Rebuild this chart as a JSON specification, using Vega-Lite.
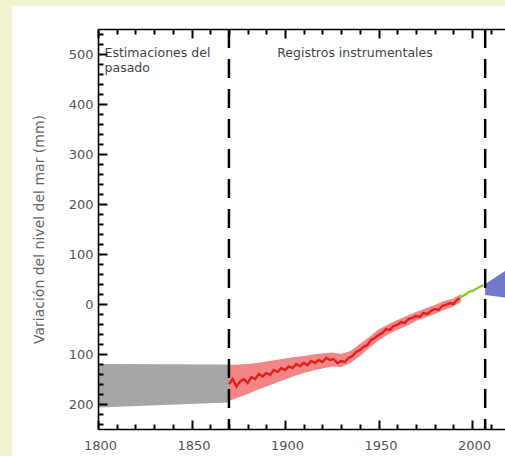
{
  "$schema": "https://vega.github.io/schema/vega-lite/v6.json",
  "autosize": "none",
  "width": 407,
  "height": 400,
  "padding": {"left": 98, "top": 29, "right": 0, "bottom": 27},
  "background": "white",
  "config": {
    "view": {"stroke": null},
    "axis": {
      "grid": false,
      "domainColor": "#000",
      "domainWidth": 1.6,
      "tickColor": "#000",
      "tickWidth": 2,
      "labelFont": "DejaVu Sans",
      "labelFontSize": 13,
      "labelColor": "#555",
      "titleFont": "DejaVu Sans",
      "titleFontSize": 14,
      "titleFontWeight": "normal",
      "titleColor": "#666"
    }
  },
  "datasets": {
    "grey": [
      {"year": 1800, "lo": -207, "hi": -120},
      {"year": 1870, "lo": -197, "hi": -121}
    ],
    "band": [
      {"year": 1870, "lo": -194, "hi": -122},
      {"year": 1875, "lo": -187, "hi": -121},
      {"year": 1880, "lo": -180, "hi": -120},
      {"year": 1885, "lo": -172, "hi": -118},
      {"year": 1890, "lo": -165, "hi": -115},
      {"year": 1895, "lo": -158, "hi": -112},
      {"year": 1900, "lo": -151, "hi": -109},
      {"year": 1905, "lo": -144, "hi": -106},
      {"year": 1910, "lo": -138, "hi": -104},
      {"year": 1915, "lo": -133, "hi": -101},
      {"year": 1920, "lo": -129, "hi": -99},
      {"year": 1925, "lo": -125, "hi": -97},
      {"year": 1930, "lo": -126, "hi": -100},
      {"year": 1935, "lo": -118, "hi": -94},
      {"year": 1940, "lo": -104, "hi": -80},
      {"year": 1945, "lo": -88, "hi": -66},
      {"year": 1950, "lo": -73, "hi": -51},
      {"year": 1955, "lo": -61, "hi": -41},
      {"year": 1960, "lo": -52, "hi": -32},
      {"year": 1965, "lo": -44, "hi": -24},
      {"year": 1970, "lo": -34, "hi": -16},
      {"year": 1975, "lo": -27, "hi": -9},
      {"year": 1980, "lo": -20, "hi": -2},
      {"year": 1985, "lo": -12, "hi": 6},
      {"year": 1990, "lo": -5, "hi": 11},
      {"year": 1994, "lo": 4, "hi": 20}
    ],
    "red": [
      {"year": 1870, "v": -160}, {"year": 1872, "v": -150}, {"year": 1874, "v": -165},
      {"year": 1876, "v": -155}, {"year": 1878, "v": -150}, {"year": 1880, "v": -158},
      {"year": 1882, "v": -146}, {"year": 1884, "v": -150}, {"year": 1886, "v": -140},
      {"year": 1888, "v": -145}, {"year": 1890, "v": -138}, {"year": 1892, "v": -142},
      {"year": 1894, "v": -132}, {"year": 1896, "v": -136}, {"year": 1898, "v": -128},
      {"year": 1900, "v": -132}, {"year": 1902, "v": -125}, {"year": 1904, "v": -128},
      {"year": 1906, "v": -120}, {"year": 1908, "v": -124}, {"year": 1910, "v": -118},
      {"year": 1912, "v": -122}, {"year": 1914, "v": -114}, {"year": 1916, "v": -118},
      {"year": 1918, "v": -112}, {"year": 1920, "v": -116}, {"year": 1922, "v": -108},
      {"year": 1924, "v": -112}, {"year": 1926, "v": -110}, {"year": 1928, "v": -118},
      {"year": 1930, "v": -114}, {"year": 1932, "v": -116}, {"year": 1934, "v": -108},
      {"year": 1936, "v": -104}, {"year": 1938, "v": -96}, {"year": 1940, "v": -92},
      {"year": 1942, "v": -86}, {"year": 1944, "v": -82}, {"year": 1946, "v": -72},
      {"year": 1948, "v": -68}, {"year": 1950, "v": -62}, {"year": 1952, "v": -58},
      {"year": 1954, "v": -50}, {"year": 1956, "v": -52}, {"year": 1958, "v": -44},
      {"year": 1960, "v": -42}, {"year": 1962, "v": -36}, {"year": 1964, "v": -38},
      {"year": 1966, "v": -30}, {"year": 1968, "v": -28}, {"year": 1970, "v": -24},
      {"year": 1972, "v": -26}, {"year": 1974, "v": -18}, {"year": 1976, "v": -20},
      {"year": 1978, "v": -14}, {"year": 1980, "v": -10}, {"year": 1982, "v": -12},
      {"year": 1984, "v": -4}, {"year": 1986, "v": -2}, {"year": 1988, "v": 2},
      {"year": 1990, "v": 0}, {"year": 1992, "v": 8}, {"year": 1994, "v": 14}
    ],
    "green": [
      {"year": 1993, "v": 12}, {"year": 1995, "v": 16}, {"year": 1997, "v": 20},
      {"year": 1998, "v": 24}, {"year": 2000, "v": 26}, {"year": 2002, "v": 30},
      {"year": 2004, "v": 34}, {"year": 2006, "v": 38}
    ],
    "blue": [
      {"year": 2007, "lo": 18, "hi": 40},
      {"year": 2020, "lo": 12, "hi": 72}
    ],
    "dash": [{"year": 1870}, {"year": 2007}],
    "leftText": [
      {"year": 1803.5, "v": 502, "t": "Estimaciones del"},
      {"year": 1803.5, "v": 473, "t": "pasado"}
    ],
    "midText": [
      {"year": 1937.4, "v": 502, "t": "Registros instrumentales"}
    ]
  },
  "layer": [
    {
      "data": {"values": [{}]},
      "mark": {"type": "rect", "fill": "#f3f3cf", "clip": false},
      "encoding": {
        "x": {"datum": 1700, "type": "quantitative", "scale": {"domain": [1800, 2017.6], "nice": false, "zero": false}, "axis": null},
        "x2": {"datum": 1754},
        "y": {"datum": 700, "type": "quantitative", "scale": {"domain": [-250, 550], "nice": false, "zero": false}, "axis": null},
        "y2": {"datum": -400}
      }
    },
    {
      "data": {"values": [{}]},
      "mark": {"type": "rect", "fill": "#f3f3cf", "clip": false},
      "encoding": {
        "x": {"datum": 1700, "type": "quantitative", "scale": {"domain": [1800, 2017.6], "nice": false, "zero": false}, "axis": null},
        "x2": {"datum": 2100},
        "y": {"datum": 700, "type": "quantitative", "scale": {"domain": [-250, 550], "nice": false, "zero": false}, "axis": null},
        "y2": {"datum": 596}
      }
    },
    {
      "data": {"name": "grey"},
      "mark": {"type": "area", "color": "#a6a6a6", "clip": true},
      "encoding": {
        "x": {
          "field": "year", "type": "quantitative",
          "scale": {"domain": [1800, 2017.6], "nice": false, "zero": false},
          "axis": {
            "orient": "bottom",
            "zindex": 1,
            "title": null,
            "values": [1800, 1850, 1900, 1950, 2000],
            "format": "d",
            "ticks": false,
            "labelPadding": 10,
            "labelFlush": false,
            "labelOverlap": false,
            "labelOffset": 2
          }
        },
        "y": {
          "field": "hi", "type": "quantitative",
          "scale": {"domain": [-250, 550], "nice": false, "zero": false},
          "axis": {
            "orient": "left",
            "zindex": 1,
            "title": "Variación del nivel del mar (mm)",
            "titlePadding": 22,
            "values": [-200, -100, 0, 100, 200, 300, 400, 500],
            "labelExpr": "format(abs(datum.value), 'd')",
            "ticks": false,
            "labelPadding": 5,
            "labelFlush": false,
            "labelOverlap": false
          }
        },
        "y2": {"field": "lo"}
      }
    },
    {
      "data": {"name": "band"},
      "mark": {"type": "area", "color": "#f07070", "opacity": 0.85, "clip": true},
      "encoding": {
        "x": {
          "field": "year", "type": "quantitative",
          "scale": {"domain": [1800, 2017.6], "nice": false, "zero": false},
          "axis": {
            "orient": "top",
            "offset": -400,
            "zindex": 1,
            "title": null,
            "values": [1800, 1850, 1900, 1950, 2000],
            "labels": false,
            "domain": false,
            "tickSize": 9
          }
        },
        "y": {
          "field": "hi", "type": "quantitative",
          "scale": {"domain": [-250, 550], "nice": false, "zero": false},
          "axis": {
            "orient": "right",
            "offset": -407,
            "zindex": 1,
            "title": null,
            "values": [-200, -100, 0, 100, 200, 300, 400, 500],
            "labels": false,
            "domain": false,
            "tickSize": 9
          }
        },
        "y2": {"field": "lo"}
      }
    },
    {
      "data": {"name": "red"},
      "mark": {"type": "line", "color": "#e0201b", "strokeWidth": 2.4, "clip": true},
      "encoding": {
        "x": {
          "field": "year", "type": "quantitative",
          "scale": {"domain": [1800, 2017.6], "nice": false, "zero": false},
          "axis": {
            "orient": "top",
            "offset": -400,
            "zindex": 1,
            "title": null,
            "values": [1810, 1820, 1830, 1840, 1860, 1870, 1880, 1890, 1910, 1920, 1930, 1940, 1960, 1970, 1980, 1990, 2010],
            "labels": false,
            "domain": false,
            "tickSize": 5
          }
        },
        "y": {
          "field": "v", "type": "quantitative",
          "scale": {"domain": [-250, 550], "nice": false, "zero": false},
          "axis": {
            "orient": "right",
            "offset": -407,
            "zindex": 1,
            "title": null,
            "values": [-240, -220, -180, -160, -140, -120, -80, -60, -40, -20, 20, 40, 60, 80, 120, 140, 160, 180, 220, 240, 260, 280, 320, 340, 360, 380, 420, 440, 460, 480, 520, 540],
            "labels": false,
            "domain": false,
            "tickSize": 5
          }
        }
      }
    },
    {
      "data": {"name": "green"},
      "mark": {"type": "line", "color": "#8cc63f", "strokeWidth": 2.5, "clip": true},
      "encoding": {
        "x": {
          "field": "year", "type": "quantitative",
          "scale": {"domain": [1800, 2017.6], "nice": false, "zero": false},
          "axis": {
            "orient": "bottom",
            "offset": -400,
            "zindex": 1,
            "title": null,
            "values": [1800, 1850, 1900, 1950, 2000],
            "labels": false,
            "domain": true,
            "tickSize": 9
          }
        },
        "y": {"field": "v", "type": "quantitative", "scale": {"domain": [-250, 550], "nice": false, "zero": false}, "axis": null}
      }
    },
    {
      "data": {"name": "blue"},
      "mark": {"type": "area", "color": "#7379c9", "clip": true},
      "encoding": {
        "x": {
          "field": "year", "type": "quantitative",
          "scale": {"domain": [1800, 2017.6], "nice": false, "zero": false},
          "axis": {
            "orient": "bottom",
            "offset": -400,
            "zindex": 1,
            "title": null,
            "values": [1810, 1820, 1830, 1840, 1860, 1870, 1880, 1890, 1910, 1920, 1930, 1940, 1960, 1970, 1980, 1990, 2010],
            "labels": false,
            "domain": false,
            "tickSize": 5
          }
        },
        "y": {"field": "hi", "type": "quantitative", "scale": {"domain": [-250, 550], "nice": false, "zero": false}, "axis": null},
        "y2": {"field": "lo"}
      }
    },
    {
      "data": {"name": "dash"},
      "mark": {"type": "rule", "color": "#000", "strokeWidth": 2.5, "strokeDash": [19, 11]},
      "encoding": {
        "x": {"field": "year", "type": "quantitative", "scale": {"domain": [1800, 2017.6], "nice": false, "zero": false}, "axis": null},
        "y": {"datum": 550, "type": "quantitative", "scale": {"domain": [-250, 550], "nice": false, "zero": false}, "axis": null},
        "y2": {"datum": -250}
      }
    },
    {
      "data": {"name": "leftText"},
      "mark": {"type": "text", "align": "left", "baseline": "middle", "font": "DejaVu Sans", "fontSize": 12.5, "color": "#444"},
      "encoding": {
        "x": {"field": "year", "type": "quantitative", "scale": {"domain": [1800, 2017.6], "nice": false, "zero": false}, "axis": null},
        "y": {"field": "v", "type": "quantitative", "scale": {"domain": [-250, 550], "nice": false, "zero": false}, "axis": null},
        "text": {"field": "t"}
      }
    },
    {
      "data": {"name": "midText"},
      "mark": {"type": "text", "align": "center", "baseline": "middle", "font": "DejaVu Sans", "fontSize": 12.5, "color": "#444"},
      "encoding": {
        "x": {"field": "year", "type": "quantitative", "scale": {"domain": [1800, 2017.6], "nice": false, "zero": false}, "axis": null},
        "y": {"field": "v", "type": "quantitative", "scale": {"domain": [-250, 550], "nice": false, "zero": false}, "axis": null},
        "text": {"field": "t"}
      }
    }
  ],
  "resolve": {"axis": {"x": "independent", "y": "independent"}}
}
